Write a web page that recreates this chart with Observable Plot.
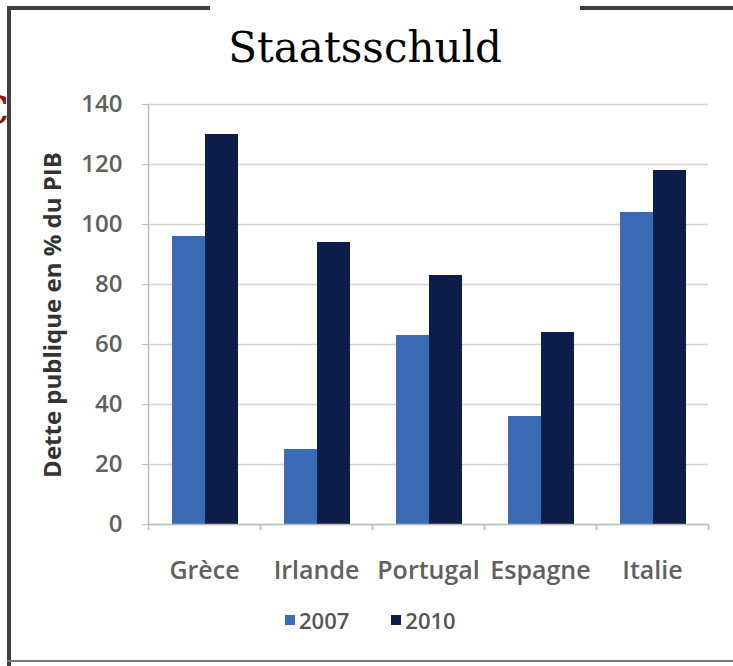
<!DOCTYPE html>
<html>
<head>
<meta charset="utf-8">
<script src="https://cdn.jsdelivr.net/npm/d3@7"></script>
<script src="https://cdn.jsdelivr.net/npm/@observablehq/plot@0.6"></script>
<style>
  html, body { margin: 0; padding: 0; background: #fff; }
  #page { position: relative; width: 733px; height: 666px; overflow: hidden; background: #fff; }
  .line { position: absolute; background: #3f3f3f; }
  #title { position: absolute; left: 165px; width: 400px; top: 23px; text-align: center;
           font-family: "DejaVu Serif", serif; font-size: 42px; color: #000; }
  #ylabel { position: absolute; left: 51px; top: 315px; transform: translate(-50%, -50%) rotate(-90deg);
            font-family: "Open Sans", sans-serif; font-weight: 700; font-size: 24px; color: #333; white-space: nowrap; }
  #legend { position: absolute; top: 605px; left: 285px; display: flex; align-items: center;
            font-family: "Open Sans", sans-serif; font-size: 22px; color: #555; font-weight: 600; }
  .sw { width: 10px; height: 10px; display: inline-block; margin-right: 4px; }
  #chart { position: absolute; left: 0; top: 80px; }
  .deco { position: absolute; font-family: "DejaVu Serif", serif; font-weight: bold; color: #8b1414; }
</style>
</head>
<body>
<div id="page">
  <div class="deco" style="left:-23px; top:86px; font-size:40px;">C</div>
  <div class="line" style="left:7px; top:6px; width:4px; height:660px;"></div>
  <div class="line" style="left:7px; top:6px; width:203px; height:4px;"></div>
  <div class="line" style="left:580px; top:6px; width:153px; height:4px;"></div>
  <div class="line" style="left:7px; top:660px; width:726px; height:2px; background:#777;"></div>
  <div id="title">Staatsschuld</div>
  <div id="chart"></div>
  <div id="ylabel">Dette publique en % du PIB</div>
  <div id="legend"></div>
</div>
<script>
const countries = ["Grèce", "Irlande", "Portugal", "Espagne", "Italie"];
const years = ["2007", "2010"];
const values2007 = [96, 25, 63, 36, 104];
const values2010 = [130, 94, 83, 64, 118];
const yTicks = [0, 20, 40, 60, 80, 100, 120, 140];
const colors = ["#3a6cb5", "#0e1c4c"];

const d2007 = countries.map((c, i) => ({country: c, year: years[0], value: values2007[i]}));
const d2010 = countries.map((c, i) => ({country: c, year: years[1], value: values2010[i]}));

const font = "Open Sans, sans-serif";
const chart = Plot.plot({
  width: 733,
  height: 530,
  marginLeft: 148,
  marginRight: 25,
  marginTop: 24,
  marginBottom: 86,
  style: {fontFamily: font, background: "transparent", overflow: "visible"},
  x: {domain: countries, padding: 0, label: null},
  y: {domain: [0, 140], label: null},
  marks: [
    Plot.gridY(yTicks, {stroke: "#d4d4d4", strokeOpacity: 1, strokeWidth: 1.5}),
    Plot.barY(d2007, {x: "country", y: "value", fill: colors[0], insetLeft: 24, insetRight: 55}),
    Plot.barY(d2010, {x: "country", y: "value", fill: colors[1], insetLeft: 57, insetRight: 22}),
    Plot.ruleY([0], {stroke: "#bdbdbd", strokeWidth: 1.5}),
    Plot.frame({anchor: "left", stroke: "#bdbdbd", strokeWidth: 1.5}),
    Plot.ruleX(countries, {x: d => d, y1: 0, y2: -2, dx: -56, stroke: "#bdbdbd", strokeWidth: 1.5}),
    Plot.ruleX(countries, {x: d => d, y1: 0, y2: -2, dx: 56, stroke: "#bdbdbd", strokeWidth: 1.5}),
    Plot.axisY(yTicks, {tickSize: 6, tickPadding: 20, fontSize: 24, fill: "#606060", stroke: "#bdbdbd", fontWeight: 600}),
    Plot.axisX({tickSize: 0, tickPadding: 37, fontSize: 25, fill: "#606060", fontWeight: 600})
  ]
});
document.getElementById("chart").appendChild(chart);

const legend = document.getElementById("legend");
years.forEach((y, i) => {
  const item = document.createElement("span");
  item.style.display = "flex";
  item.style.alignItems = "center";
  item.style.marginRight = i === 0 ? "42px" : "0";
  const sw = document.createElement("span");
  sw.className = "sw";
  sw.style.background = colors[i];
  const t = document.createElement("span");
  t.textContent = y;
  item.appendChild(sw);
  item.appendChild(t);
  legend.appendChild(item);
});
</script>
</body>
</html>
